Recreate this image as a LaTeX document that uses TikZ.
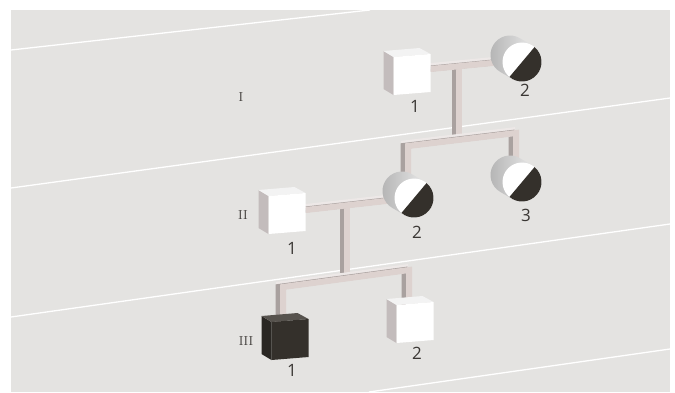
\documentclass[tikz,border=0pt]{standalone}
\usepackage{fontspec}
\setsansfont{Open Sans}
\usepackage{tikz}
\usetikzlibrary{
	calc,
	positioning
}
\usepackage{xcolor}

\definecolor{panel}{HTML}{E4E3E1}
\definecolor{ink}{HTML}{3A3734}
\definecolor{pipefront}{HTML}{DDD2CF}
\definecolor{pipetop}{HTML}{EDE8E7}
\definecolor{pipeside}{HTML}{A9A19F}
\definecolor{cubetop}{HTML}{F3F3F3}
\definecolor{cubeside}{HTML}{C3BCBC}
\definecolor{darkfront}{HTML}{34302B}
\definecolor{darktop}{HTML}{57534E}
\definecolor{darkside}{HTML}{2A2723}

% 3D square: node name, front, top, side colour
\newcommand{\pedcube}[4]{%
	\fill[#4] (#1.north west) -- ($(#1.north west)+(-10,-6)$) -- ($(#1.south west)+(-10,-6)$) -- (#1.south west) -- cycle;
	\fill[#3] (#1.north west) -- ($(#1.north east)+(0,-3)$) -- ++(-11,-6) -- ($(#1.north west)+(-10,-6)$) -- cycle;
	\fill[#2] (#1.north west) -- ($(#1.north east)+(0,-3)$) -- ($(#1.south east)+(0,-3)$) -- (#1.south west) -- cycle;
}
% 3D circle, half filled: node name
\newcommand{\pedcircle}[1]{%
	\shade[left color=gray!60,right color=white!96!black]
	($(#1.center)+(-12,-7)+(300:19.5)$) arc[start angle=300,end angle=120,radius=19.5]
	-- ($(#1.center)+(120:19.5)$) arc[start angle=120,end angle=-60,radius=19.5] -- cycle;
	\fill[white] (#1.center) circle[radius=19.5];
	\fill[darkfront] ($(#1.center)+(-50:19.5)$) arc[start angle=-50,end angle=130,radius=19.5] -- cycle;
}

\begin{document}
\begin{tikzpicture}[x=1pt,y=-1pt,
	sq/.style={rectangle,minimum width=37pt,minimum height=38pt,inner sep=0pt,outer sep=0pt},
	ci/.style={circle,minimum size=39pt,inner sep=0pt,outer sep=0pt},
	num/.style={font=\sffamily\fontsize{17}{17}\selectfont,text=ink},
	gen/.style={font=\fontsize{13}{13}\selectfont,text=ink},
	band/.style={white,line width=1.3pt},
	pipe/.style={draw=pipefront,line width=6pt,line join=miter,
		preaction={draw=pipetop,line width=6pt,transform canvas={shift={(-4,-2.5)}}},
		preaction={draw=pipeside,line width=6pt,transform canvas={shift={(-4.5,0)}}}}]
	
	\useasboundingbox (0,0) rectangle (675,392);
	\fill[white] (0,0) rectangle (675,392);
	\fill[panel] (11,10) rectangle (670,392);
	
	% bands
	\begin{scope}
		\clip (11,10) rectangle (670,392);
		\draw[band] (11,50) -- (370,10);
		\draw[band] (11,188) -- (670,98);
		\draw[band] (11,317) -- (670,224);
		\draw[band] (369,392) -- (670,349);
	\end{scope}
	
	% generations
	\node[gen] (gI) at (241,97) {I};
	\node[gen] (gII) at (243,215) {II};
	\node[gen] (gIII) at (246,341) {III};
	
	% individuals
	\node[sq] (I1) at (412,76) {};
	\node[ci] (I2) at (522,62) {};
	\node[sq] (II1) at (287,215) {};
	\node[ci] (II2) at (414,198) {};
	\node[ci] (II3) at (522,182) {};
	\node[sq] (III1) at (290,341) {};
	\node[sq] (III2) at (415,324) {};
	
	\coordinate (dI) at (459,67);
	\coordinate (eI) at (459,140);
	\coordinate (sIl) at (408,146);
	\coordinate (sIr) at (516,133);
	\coordinate (dII) at (347,207);
	\coordinate (eII) at (347,278);
	\coordinate (sIIl) at (283,287);
	\coordinate (sIIr) at (409,270);
	
	% lines of descent
	\draw[pipe] (dI) -- (eI);
	\draw[pipe] (dII) -- (eII);
	\draw[pipe] ($(I1.east)+(0,-7)$) -- (I2.west);
	\draw[pipe] ($(II1.east)+(0,-5)$) -- ($(II2.west)+(0,2)$);
	\draw[pipe] (sIl |- II2.north) -- (sIl) -- (sIr) -- (sIr |- II3.north);
	\draw[pipe] (sIIl |- III1.north) -- (sIIl) -- (sIIr) -- (sIIr |- III2.north);
	
	% symbols
	\pedcube{I1}{white}{cubetop}{cubeside}
	\pedcircle{I2}
	\pedcube{II1}{white}{cubetop}{cubeside}
	\pedcircle{II2}
	\pedcircle{II3}
	\pedcube{III1}{darkfront}{darktop}{darkside}
	\pedcube{III2}{white}{cubetop}{cubeside}
	
	% numbers
	\node[num] (nI1) at (415,106) {1};
	\node[num] (nI2) at (525,90) {2};
	\node[num] (nII1) at (292,248) {1};
	\node[num] (nII2) at (417,232) {2};
	\node[num] (nII3) at (526,215) {3};
	\node[num] (nIII1) at (292,370) {1};
	\node[num] (nIII2) at (417,353) {2};
	
\end{tikzpicture}
\end{document}
